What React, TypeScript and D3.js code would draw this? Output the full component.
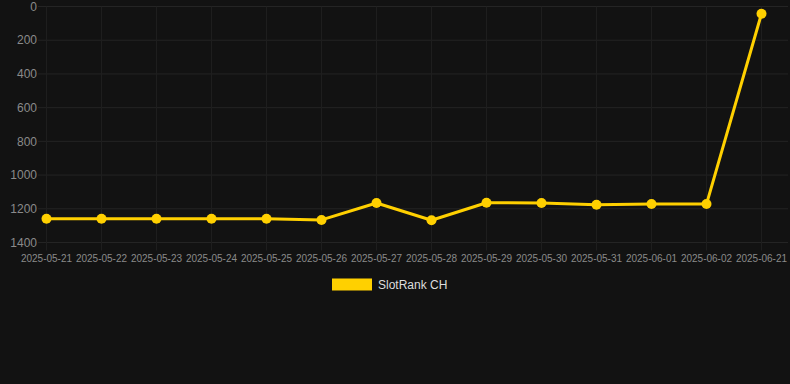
import React from "react";
import * as d3 from "d3";

const categories = [
  "2025-05-21", "2025-05-22", "2025-05-23", "2025-05-24", "2025-05-25",
  "2025-05-26", "2025-05-27", "2025-05-28", "2025-05-29", "2025-05-30",
  "2025-05-31", "2025-06-01", "2025-06-02", "2025-06-21",
];
const seriesValues = [1259, 1259, 1259, 1259, 1259, 1266, 1166, 1268, 1164, 1166, 1176, 1172, 1172, 43];
const yTicks = [0, 200, 400, 600, 800, 1000, 1200, 1400];
const seriesName = "SlotRank CH";

const W = 790, H = 384;
const COLOR = "#ffd000";

export default function App() {
  const x = d3.scalePoint<string>().domain(categories).range([46.5, 761.5]);
  const y = d3.scaleLinear().domain([0, 1400]).range([6.5, 242.5]);
  const line = d3.line<number>()
    .x((_, i) => x(categories[i]) as number)
    .y((d) => y(d));
  const font = "Helvetica, Arial, 'Liberation Sans', sans-serif";
  return (
    <div style={{ position: "fixed", left: 0, top: 0, width: W, height: H, background: "#121212" }}>
      <svg width={W} height={H} style={{ display: "block" }}>
        <rect width={W} height={H} fill="#121212" />
        {yTicks.map((t) => (
          <g key={t}>
            <line x1={38} x2={788} y1={y(t)} y2={y(t)} stroke="#242424" strokeWidth={1} />
            <text x={37} y={y(t)} dy="0.35em" textAnchor="end" fontSize={12} fill="#8a8a8a" fontFamily={font}>{t}</text>
          </g>
        ))}
        {categories.map((c) => (
          <g key={c}>
            <line x1={x(c)} x2={x(c)} y1={y(0)} y2={y(1400) + 8} stroke="#1e1e1e" strokeWidth={1} />
            <text x={x(c)} y={262} textAnchor="middle" fontSize={10} fill="#8a8a8a" fontFamily={font}>{c}</text>
          </g>
        ))}
        <path d={line(seriesValues) || ""} fill="none" stroke={COLOR} strokeWidth={3} strokeLinejoin="round" />
        {seriesValues.map((v, i) => (
          <circle key={i} cx={x(categories[i])} cy={y(v)} r={5} fill={COLOR} />
        ))}
        <rect x={332} y={278.5} width={40} height={12} fill={COLOR} />
        <text x={378} y={284.5} dy="0.35em" fontSize={12} fill="#dddddd" fontFamily={font}>{seriesName}</text>
      </svg>
    </div>
  );
}
